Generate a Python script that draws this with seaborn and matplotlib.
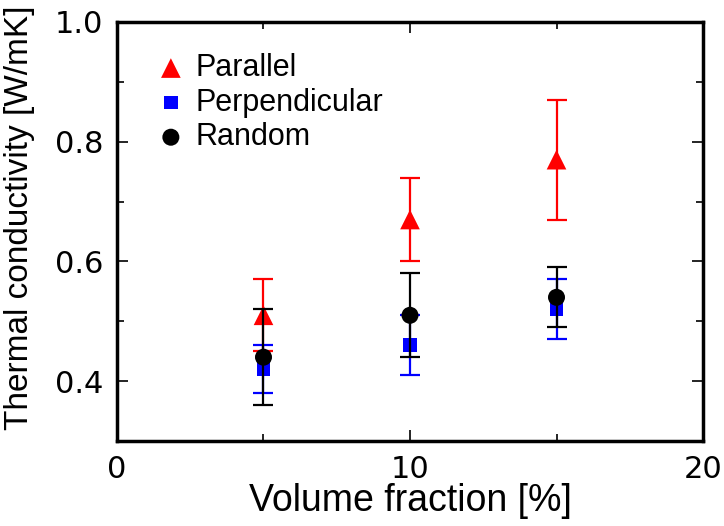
import numpy as np
import pandas as pd
import matplotlib
matplotlib.use("Agg")
import matplotlib.pyplot as plt
import seaborn as sns
from matplotlib.ticker import MultipleLocator

# data
volume = [5, 10, 15]  # %
parallel = [0.51, 0.67, 0.77]
parallel_lo = [0.45, 0.60, 0.67]
parallel_hi = [0.57, 0.74, 0.87]
perpendicular = [0.42, 0.46, 0.52]
perpendicular_lo = [0.38, 0.41, 0.47]
perpendicular_hi = [0.46, 0.51, 0.57]
random_ = [0.44, 0.51, 0.54]
random_lo = [0.36, 0.44, 0.49]
random_hi = [0.52, 0.58, 0.59]

series = [
    ("Parallel", parallel, parallel_lo, parallel_hi, "#ff0000", "^", 200),
    ("Perpendicular", perpendicular, perpendicular_lo, perpendicular_hi, "#0000ff", "s", 95),
    ("Random", random_, random_lo, random_hi, "#000000", "o", 150),
]

sns.set_theme(style="ticks")
plt.rcParams['font.family'] = ['Liberation Sans', 'DejaVu Sans']
plt.rcParams['text.color'] = 'black'
plt.rcParams['axes.labelcolor'] = 'black'
plt.rcParams['xtick.color'] = 'black'
plt.rcParams['ytick.color'] = 'black'

fig = plt.figure(figsize=(7.24, 5.26), dpi=100)
ax = fig.add_axes([0.1616, 0.1616, 0.8094, 0.7966])

z = 2
for name, y, lo, hi, col, mk, size in series:
    y = np.array(y)
    err = [y - np.array(lo), np.array(hi) - y]
    ax.errorbar(volume, y, yerr=err, fmt="none", ecolor=col, elinewidth=1.6,
                capsize=7, capthick=1.6, zorder=z)
    sns.scatterplot(x=volume, y=y, ax=ax, color=col, marker=mk, s=size,
                    edgecolor="none", label=name, zorder=z + 0.5)
    z += 1

ax.set_xlim(0, 20)
ax.set_ylim(0.3, 1.0)
ax.xaxis.set_major_locator(MultipleLocator(10))
ax.xaxis.set_minor_locator(MultipleLocator(5))
ax.yaxis.set_minor_locator(MultipleLocator(0.1))
ax.set_yticks([0.4, 0.6, 0.8, 1.0])
ax.set_yticklabels(["0.4", "0.6", "0.8", "1.0"])
ax.tick_params(which="both", direction="in", top=True, right=True, width=1.2)
ax.tick_params(which="major", length=8, labelsize=22, pad=10)
ax.tick_params(which="minor", length=5)
for lab in ax.get_xticklabels() + ax.get_yticklabels():
    lab.set_family("DejaVu Sans")
for s in ax.spines.values():
    s.set_linewidth(2.5)
    s.set_color("black")

ax.set_xlabel("Volume fraction [%]", fontsize=27)
ax.set_ylabel("Thermal conductivity [W/mK]", fontsize=24)
ax.xaxis.set_label_coords(0.5, -0.1)
ax.yaxis.set_label_coords(-0.14, 0.533)

leg = ax.legend(loc="upper left", bbox_to_anchor=(0.045, 0.955), frameon=False,
                fontsize=22, handlelength=1.0, handletextpad=0.3,
                labelspacing=0.15, borderaxespad=0)

fig.savefig("out.png", dpi=100)
